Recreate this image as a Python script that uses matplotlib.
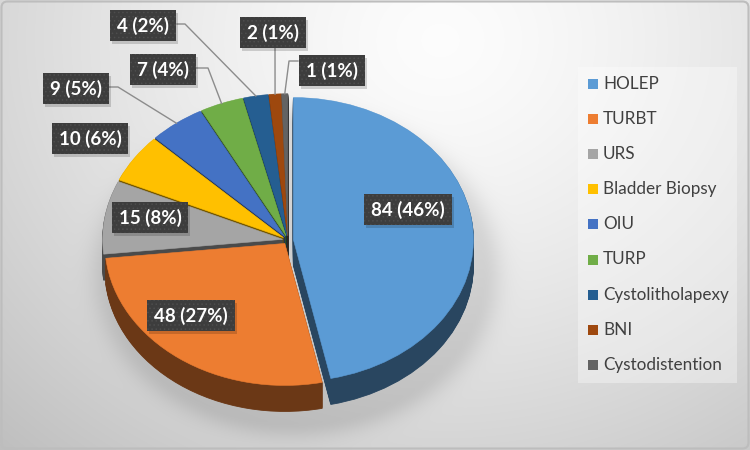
import numpy as np
import matplotlib
matplotlib.use("Agg")
import matplotlib.pyplot as plt
from matplotlib.patches import FancyBboxPatch, Rectangle
import matplotlib.colors as mcolors

# ---------------- data ----------------
categories = ["HOLEP", "TURBT", "URS", "Bladder Biopsy", "OIU", "TURP",
              "Cystolitholapexy", "BNI", "Cystodistention"]
counts = [84, 48, 15, 10, 9, 7, 4, 2, 1]
percents = [46, 27, 8, 6, 5, 4, 2, 1, 1]
colors = ["#5B9BD5", "#ED7D31", "#A5A5A5", "#FFC000", "#4472C4", "#70AD47",
          "#255E91", "#9E480E", "#636363"]

# ---------------- layout ----------------
W, H = 750, 450
FONT = "Lato"
plt.rcParams["hatch.linewidth"] = 0.6
fig = plt.figure(figsize=(7.5, 4.5), dpi=100)

# background gradient + soft pie shadow
cx, cy, rx, ry = 288, 240, 180, 142
depth_px = 26
bg = fig.add_axes([0, 0, 1, 1], zorder=0)
yy, xx = np.mgrid[0:H, 0:W].astype(float)
d = np.hypot(xx - 440, (yy - 40) * 1.15)
v = 0.99 - 0.20 * np.clip(d / 560, 0, 1.4) ** 1.4
re = np.hypot((xx - (cx + 8)) / (rx + 6), (yy - (cy + depth_px + 6)) / (ry + 8))
shadow = 0.10 * np.exp(-np.clip(re - 1, 0, None) ** 2 / 0.012)
v = v - shadow
rgb = np.dstack([v, v, v])
bg.imshow(np.clip(rgb, 0, 1), extent=[0, W, H, 0], aspect="auto", interpolation="bilinear")
bg.set_xlim(0, W)
bg.set_ylim(H, 0)
bg.axis("off")

# pie axes (elliptical because of non-equal aspect)
ax = fig.add_axes([(cx - 1.25 * rx) / W, (H - cy - 1.25 * ry) / H,
                   2.5 * rx / W, 2.5 * ry / H], zorder=2)
explode = [0.03] * len(counts)
dark = [tuple(np.array(mcolors.to_rgb(c)) * 0.45) for c in colors]
depth = depth_px / ry
nl = 30
for k in range(nl, 0, -1):
    off = depth * k / nl
    ws, _ = ax.pie(counts, explode=explode, colors=dark, startangle=90, counterclock=False,
                   center=(0, -off), wedgeprops=dict(linewidth=0.6))
    for w in ws:
        w.set_edgecolor(w.get_facecolor())
wedges, _ = ax.pie(counts, explode=explode, colors=colors, startangle=90,
                   counterclock=False, wedgeprops=dict(linewidth=0.4))
for w in wedges:
    w.set_edgecolor(w.get_facecolor())
ax.set_xlim(-1.25, 1.25)
ax.set_ylim(-1.25, 1.25)
ax.set_aspect("auto")
ax.axis("off")

# overlay in pixel coordinates
ov = fig.add_axes([0, 0, 1, 1], zorder=5)
ov.set_xlim(0, W)
ov.set_ylim(H, 0)
ov.axis("off")
ov.patch.set_alpha(0)

# label positions (pixel centers) and leader elbows
label_pos = [(408, 209), (191, 315), (150, 217), (90, 138), (76, 88),
             (163, 69), (143, 25), (273, 32), (332, 70)]
elbows = {4: [(109, 87), (118, 87)], 5: [(196, 68), (208, 68)],
          6: [(177, 24), (185, 24)], 7: [(275, 47)], 8: [(298, 61), (289, 61)]}

texts = []
for i, (c, p) in enumerate(zip(counts, percents)):
    x, y = label_pos[i]
    t = ov.text(x, y + 0.5, f"{c} ({p}%)", ha="center", va="center", color="white",
                fontsize=13.5, fontweight="bold", family=FONT, zorder=7)
    texts.append(t)

fig.canvas.draw()
to_ov = ov.transData.inverted()
renderer = fig.canvas.get_renderer()
for i, (w, t) in enumerate(zip(wedges, texts)):
    if i in elbows:
        th = np.deg2rad((w.theta1 + w.theta2) / 2)
        px = w.center[0] + w.r * np.cos(th)
        py = w.center[1] + w.r * np.sin(th)
        ex, ey = to_ov.transform(ax.transData.transform((px, py)))
        pts = elbows[i] + [(ex, ey)]
        ov.plot([q[0] for q in pts], [q[1] for q in pts], color="#8c8c8c", lw=1.0, zorder=6)
    bb = t.get_window_extent(renderer)
    bw = bb.width + 14
    bh = 31
    x, y = label_pos[i]
    ov.add_patch(Rectangle((x - bw / 2 + 2, y - bh / 2 + 3), bw, bh,
                           fc=(0, 0, 0, 0.16), ec="none", zorder=6.4))
    ov.add_patch(Rectangle((x - bw / 2, y - bh / 2), bw, bh,
                           fc="#3d3d3d", ec="none", zorder=6.5))
    ov.add_patch(Rectangle((x - bw / 2, y - bh / 2), bw, bh, fc="none",
                           ec="#4d4d4d", lw=0, hatch="....", zorder=6.6))

# legend
ov.add_patch(Rectangle((578, 67), 159, 316, fc="white", alpha=0.35, ec="none", zorder=5))
for i, (name, col) in enumerate(zip(categories, colors)):
    y = 84 + i * 35.1
    ov.add_patch(Rectangle((588, y - 5), 10, 10, fc=col, ec="none", zorder=6))
    ov.text(603, y, name, ha="left", va="center", color="#404040",
            fontsize=12.3, family=FONT, zorder=6)

# outer border
ov.add_patch(FancyBboxPatch((1.5, 1.5), W - 3, H - 3,
                            boxstyle="round,pad=0,rounding_size=6",
                            fc="none", ec="#bdbdbd", lw=1.5, zorder=8))

fig.savefig("out.png", dpi=100)
